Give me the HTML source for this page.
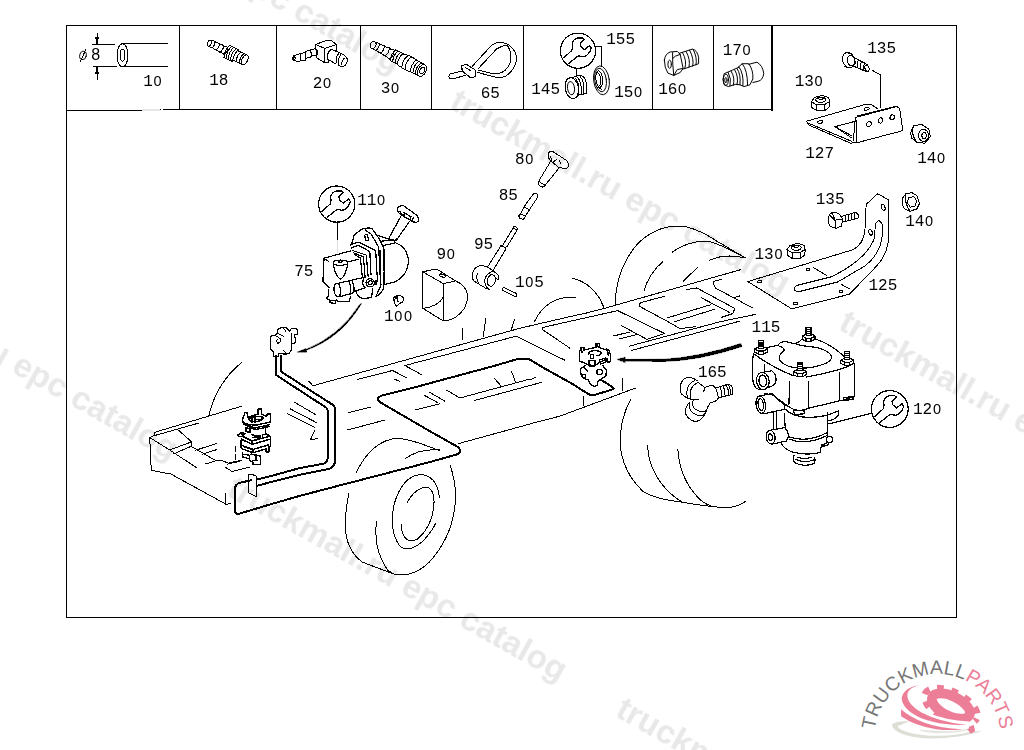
<!DOCTYPE html>
<html><head><meta charset="utf-8">
<style>
html,body{margin:0;padding:0;background:#fff;}
svg{display:block;}
.k{shape-rendering:crispEdges;fill:none;stroke:#000;stroke-width:1;stroke-linecap:round;stroke-linejoin:round;}
.k path,.k line,.k ellipse,.k circle,.k polyline,.k polygon,.k rect{vector-effect:non-scaling-stroke;}
.k .t{stroke-width:2;}
.k .m{stroke-width:1.35;}
.k .w{fill:#fff;}
.k .b{fill:#000;}
.lb{font-family:"Liberation Mono",monospace;font-size:16px;fill:#000;stroke:none;filter:grayscale(1);}
.z{font-family:"Liberation Sans",sans-serif;font-size:14.5px;letter-spacing:.95px;}
.wm{font-family:"Liberation Sans",sans-serif;font-weight:bold;font-size:32px;fill:#e8e8e8;stroke:none;filter:grayscale(1);}
</style></head><body>
<svg width="1024" height="750" viewBox="0 0 1024 750">
<rect width="1024" height="750" fill="#fff"/>
<!-- 10_frame.svg -->
<g class="k" id="frame" style="stroke-width:1;stroke-linecap:square" shape-rendering="crispEdges">
<rect x="66.5" y="25.5" width="890" height="592"/>
<path d="M66.5 110.5H141.5M159.5 109.5H160.5M163  109.5H772M179.5 25.5V109.5M276.5 25.5V109.5M360.5 25.5V109.5M431.5 25.5V109.5M523.5 25.5V109.5M652.5 25.5V109.5M713.5 25.5V109.5"/>
<path d="M772 25.5V110" style="stroke-width:2"/>
<path d="M142.5 110H158.5" style="stroke:#e6e6e6;stroke-width:2"/>
</g>

<!-- 20_defs.svg -->
<defs>
<g id="wr"><circle cx="372" cy="362" r="230" vector-effect="non-scaling-stroke"/><path vector-effect="non-scaling-stroke" d="M185,455 L290,360 L300,320 L295,270 Q310,210 370,195 L430,195 L455,215 L400,270 L410,310 L455,350 L525,295 L545,330 L525,380 L480,430 L440,440 L375,430 L250,530"/></g>
<g id="nut130"><path vector-effect="non-scaling-stroke" fill="#fff" d="M105,395 L125,368 L175,355 L215,368 L222,395 L218,430 L190,453 L140,453 L108,432 Z"/><path vector-effect="non-scaling-stroke" d="M105,395 L138,415 L190,412 L222,395 M138,415 L140,453 M190,412 L190,453 M132,383 Q135,368 165,366 Q195,368 197,382 Q192,398 165,400 Q136,398 132,383 M145,372 Q162,392 186,370"/></g>
</defs>

<!-- 30_chassis_frontleft.svg -->
<g class="k" transform="translate(140,400) scale(0.15625)">
<path d="M90,208 L650,40 M90,208 L92,228 M62,240 L92,228 L375,148 M62,240 L72,450 L198,474 L545,664 M545,598 V672 L577,662"/>
<path d="M62,240 L190,320 L360,432 M245,192 L330,268 V297 M330,268 L190,320 M330,295 L215,345"/>
<path d="M355,322 L490,278 M400,346 L490,318 M330,298 L480,385 L520,385 L560,402 M415,410 L480,392"/>
<path d="M610,300 V385" stroke-dasharray="5 3"/>
<path d="M548,432 L590,458 L700,430 M560,410 L640,392 M575,402 L650,385"/>
</g>
<g class="k" transform="translate(225,400) scale(0.0933)">
<g style="stroke-width:1.45">
<path d="M185,215 L215,135 L240,140 L245,185 L355,150 V95 H390 V150 L445,175 L455,150 L485,150 L490,235 L330,270 L200,255 Z"/>
<path d="M250,200 Q330,160 410,185 Q420,215 330,235 Q260,235 250,200 M290,190 V240 M320,185 V235 M345,210 L400,205 M265,180 L300,170"/>
<path d="M190,240 L320,300 L475,265 M200,260 L320,320 L470,285 M225,295 L225,335 L270,350 M435,280 V355 M225,295 L270,310 M270,310 V350"/>
<path d="M135,375 L175,350 L220,360 M135,375 L160,395 L200,385 M180,365 L205,372"/>
<path d="M175,420 L290,475 L485,420 M200,395 L290,440 L470,390 V380 L440,365 L400,375 L400,405 M290,375 L380,385 V410 L290,440 M485,390 V495 M175,420 L170,475 M290,440 V475 M300,400 L370,395"/>
<path d="M165,480 L300,530 L470,480 M175,520 L300,565 L420,530 M440,520 V555 H470 V500 M165,480 L175,520 M300,530 V565 M215,505 L280,525"/>
<path d="M190,560 V610 L260,630 M190,580 L250,590 M265,600 V650 L300,665 V690 H380 V600 M300,650 H350 M280,580 L380,600 M330,600 V650"/>
</g>
</g>

<!-- 31_pipe_left.svg -->
<g class="k" transform="translate(220,300) scale(0.25)">
<path d="M355,325 L372,343 L1200,112.8 M740,262 L1184,145 M550,318 L690,282 L745,310 M700,318 L720,325 M745,265 L805,298"/>
<path d="M515,450 L605,428 M510,520 L660,480 M780,440 L880,415 M815,380 L870,410 M840,370 L900,405 M905,360 L960,392 L1240,316 M1018,402 L1240,342 M1096,312 L1128,348 M1166,285 L1182,328 M1063,74 L1053,148 M1178,78 L1166,117 M956,574 L1240,496"/>
<path d="M300,410 L385,460 M280,435 L385,490 M270,455 L380,510 M380,520 L362,558 L390,555"/>
<path d="M968,110 V160"/>
</g>

<!-- 32_rail_mid.svg -->
<g class="k" transform="translate(520,270) scale(0.1953125)">
<path d="M0,298 L250,240 Q340,222 420,200 L1129.5,-1.5"/>
<path d="M255,400 L115,305 Q110,294 130,291 L500,208 L740,325 L650,355 L520,285 M478,338 L560,318 M510,352 L600,330"/>
<path d="M-20,339 L230,462"/>
<path d="M740,135 L625,165 Q606,170 612,186 L740,255 L820,300 L900,290 M850,100 L905,92 L1099.8,196.6 L1089.5,223.2 L1029,243.2 M755,245 L975,178 M790,265 L1000,200"/>
<path d="M560,390 L1024,265 L1208,226.8 M570,412 L1024,290 L1124,262"/>
<path d="M1034,48 L1000,55 Q984,60 992,76 L1000,92 L1189.4,193.5 M930,143 L1074.7,218.6 M1089.5,143.4 L1124.4,133.1"/>
<path d="M75,262 Q140,130 285,140 M270,42 Q380,70 430,190 "/>
<path d="M525,555 V615 M325,650 V695 M51,788 L205,748 L590,605 M51,562 L80,550 M51,592 L110,575"/>
</g>

<!-- 33_frontwheel.svg -->
<g class="k" transform="translate(320,410) scale(0.1953125)">
<path d="M185,320 Q270,150 400,145 Q470,150 615,210 M435,250 Q510,195 615,205"/>
</g>
<g class="k" transform="translate(320,480) scale(0.1953125)">
<path d="M148,68 Q120,200 135,290 Q150,370 215,420 L380,482 M668,-73 Q705,50 690,140 Q670,300 560,420 Q480,500 380,482 M290,212 Q270,350 345,460 L375,480"/>
<path d="M612,92 Q598,-28 510,-28 Q420,-15 380,122 Q350,260 410,340 Q460,375 530,310 Q575,260 592,222"/>
<path d="M447,114 Q490,37 550,37 Q592,52 582,142 Q570,242 500,302 Q440,332 420,262 L418,230"/>
</g>

<!-- 34_rearwheel_top.svg -->
<g class="k" transform="translate(600,215) scale(0.1953125)">
<path d="M78,460 Q80,280 190,150 Q300,40 440,60 Q520,80 600,135 L745,220 M370,190 Q450,130 560,135 Q640,160 745,220 M560,232 Q640,195 745,220"/>
<path d="M225,390 Q250,300 320,240 M425,340 L500,268 M0,430 L20,475"/>
</g>

<!-- 35_rearwheel_bottom.svg -->
<g class="k" transform="translate(590,370) scale(0.1953125)">
<path d="M208,150 Q150,260 155,380 Q165,520 270,620 Q330,660 460,675 Q600,700 700,705 Q760,700 798,672 M295,385 Q300,520 400,620 Q440,660 480,680 M450,408 Q460,560 560,660 Q590,690 640,702"/>
</g>

<!-- 36_connector_arrow.svg -->
<g class="k" transform="translate(180,300) scale(0.1953125)">
<path d="M318,318 Q190,420 148,590"/>
<path class="b" style="stroke-width:.6" d="M928,20 Q824,196 640,259 L640,256 Q816,186 920,24 Z M603,266 L645,249 L648,265 Z"/>
</g>
<g class="k" transform="translate(260,320) scale(0.0533)">
<path style="stroke-width:1.2" d="M195,320 L195,540 L250,590 L250,685 L345,685 L350,630 L420,635 L480,640 L545,625 L590,560 L590,450 L660,430 L665,340 L640,290 L640,270 L705,270 L710,200 Q690,160 640,155 L590,160 L555,210 L480,135 L400,135 L330,185 L325,250 L270,290 L195,305 Z"/>
<path d="M590,245 V560 M325,250 L445,310 M290,290 L380,350 L385,410 L335,440 L305,400 L330,360 M440,150 L485,215 M440,570 L490,625"/>
</g>

<!-- 40_longpipe.svg -->
<g class="k"><path class="t" d="M251.5,480.2 L240.5,482.6 Q234.9,484 234.9,489.5 L234.9,510.5 Q235.2,514.8 239.5,513.6 L274,503.3 L300,495.8 L337.5,486 L430,462 L456.4,454.6 Q461.5,452.8 460.3,450 Q459.5,447.8 455.8,445.8 L430,431.3 L380.1,402.2 Q376.6,399.8 378,398 Q379,396.6 381.3,395.7 L414,387.5 L496,365.4 L518.6,358.7 L528.3,358.7 L544,368.1 L574,384.8 L587.5,393.6 Q589.5,395 592,395 L596,394.5 L612,389.6 Q615.2,388.6 612.5,387 L601,379.8"/>
<path class="t" d="M276.1,356 V374 Q276.1,375.2 277.2,375.8 L326.2,407.6 Q327.7,408.6 327.7,410.5 V458.5 Q327.4,462.5 323.2,463.8 L300,468 L274,475.2 L256.8,479.6"/>
<path class="t" d="M280.9,356 V370.6 Q280.9,371.6 282,372.2 L332.5,404.6 Q335,406.3 335,409 V461 Q334.6,466.8 329.6,468.8 L300,474.8 L274,481.3 L257.1,485.7"/>
<path d="M248.3,474 L252,474.3 L256.5,476.3 V496.6 L248.3,492.5 Z"/>
</g>

<!-- 50_valve115.svg -->
<g class="k" style="stroke-width:1.2" transform="translate(735,320) scale(0.15625)">
<!-- top plate -->
<path d="M130,190 L275,162 Q290,135 330,140 L385,152 Q420,135 435,118 M505,118 Q610,150 700,235 M760,278 Q700,320 455,365 M378,358 Q250,310 128,222"/>
<path d="M278,165 Q312,175 315,192 Q268,232 290,262 Q340,320 480,305 Q622,280 618,235 Q600,185 480,170 Q420,165 385,152"/>
<!-- studs -->
<g id="stud"><path class="w" d="M125,185 L150,172 L185,172 L208,185 L206,205 L182,219 L150,219 L125,205 Z"/><path d="M125,185 L150,198 L182,198 L208,185 M150,198 V219 M182,198 V219"/><path class="w" d="M150,130 H182 V180 H150 Z"/><path d="M150,142 H182 M150,154 H182 M150,166 H182"/></g>
<use href="#stud" x="305" y="-82"/>
<use href="#stud" x="552" y="72"/>
<use href="#stud" x="250" y="145"/>
<!-- body -->
<path d="M118,215 Q105,300 116,400 L132,432 M188,285 V345 M765,280 V490 M350,395 L345,540 M470,395 V560 M668,335 V510"/>
<path d="M190,470 L240,480 L330,545 Q400,600 470,565 L700,510 L762,490"/>
<path d="M372,580 L445,582 L445,600 L385,605 Z M695,497 L755,490 L755,508 L700,515 Z"/>
<!-- port 1 -->
<ellipse cx="178" cy="390" rx="40" ry="56" transform="rotate(-8 178 390)"/><ellipse cx="178" cy="390" rx="24" ry="38" transform="rotate(-8 178 390)"/>
<path d="M180,334 L235,325 Q268,350 262,392 Q255,422 212,432 M130,432 Q150,450 185,446"/>
<!-- port 2 -->
<ellipse cx="165" cy="542" rx="30" ry="56" transform="rotate(-8 165 542)"/><ellipse cx="165" cy="542" rx="17" ry="38" transform="rotate(-8 165 542)"/>
<path d="M160,487 L235,470 Q262,500 320,545 L315,572 L185,600"/>
<!-- lower cylinder -->
<path d="M320,570 Q400,650 590,610 L660,582 V612 Q640,640 592,646 M590,592 V735 M245,590 V700 M265,590 V692 M316,600 L322,700"/>
<path d="M598,665 L870,598"/>
</g>
<g class="k" style="stroke-width:1.2" transform="translate(735,390) scale(0.15625)">
<path d="M345,300 Q460,340 585,275 M350,316 Q460,356 592,290"/>
<path d="M298,345 Q320,385 380,400 Q460,420 545,400 L550,366 L600,350 L600,338 M555,352 L590,336 L560,356"/>
<circle cx="605" cy="316" r="20" class="w"/>
<path d="M378,420 Q368,450 385,466 Q440,496 506,470 Q516,450 510,430 M385,442 Q440,472 510,446 M400,430 Q440,446 490,430"/>
<ellipse cx="228" cy="302" rx="28" ry="44" transform="rotate(-8 228 302)"/><ellipse cx="226" cy="302" rx="13" ry="21" transform="rotate(-8 226 302)"/>
<path d="M225,258 L320,240 Q346,270 340,300 L330,326 L240,346"/>
</g>

<!-- 51_wrenches.svg -->
<g class="k" style="stroke-width:1.25">
<g transform="translate(889.8,409) scale(0.08) translate(-372,-362)"><use href="#wr"/></g>
<g transform="translate(336.7,204.1) scale(0.0787) translate(-372,-362)"><use href="#wr"/></g>
<g transform="translate(578,50.7) scale(0.0765) translate(-372,-362)"><use href="#wr"/></g>
</g>
<g class="k">
<path d="M337.2,222 V240"/><path d="M337.2,240 V252.7" style="stroke:#ddd"/>
<path d="M576.1,68.3 V77 M596.25,46.25 H601.25 V66.25"/>
</g>

<!-- 52_bracket125.svg -->
<g class="k" transform="translate(740,180) scale(0.1953125)">
<path d="M40,520 L575,358 Q635,330 640,250 L646,125 L705,70 L758,100 L758,320 Q750,385 700,440 L560,585 L265,660 Z"/>
<path d="M290,540 L470,495 Q660,400 690,290 L692,232 Q700,205 715,210 Q736,225 730,275 Q720,380 640,440 L500,522 L300,572 Q262,566 290,540"/>
<ellipse cx="733" cy="140" rx="9" ry="16" transform="rotate(-20 733 140)"/>
<ellipse cx="668" cy="268" rx="9" ry="15" transform="rotate(-20 668 268)"/>
<path d="M92,516 h18 v9 h-18z M340,455 h18 v8 h-18z M276,628 h18 v9 h-18z M508,567 h18 v8 h-18z M375,448 L445,490 M520,535 L562,558"/>
<!-- bolt 135 -->
<path d="M458,178 Q444,205 460,236 L490,248 L520,236 L526,200 L505,170 L472,165 Z M472,165 L486,206 L490,248 M486,206 L526,200 M458,178 L486,206 M520,186 L590,166 Q612,172 604,196 L525,216 M540,181 V212 M556,176 V208 M572,172 V204 M588,168 V200"/>
<!-- nut 140 -->
<path d="M836,85 Q824,112 840,146 L870,160 L905,148 L919,120 L906,80 L880,65 L850,70 Z M850,70 Q838,110 870,160 M862,92 L890,84 L904,105 L898,132 L872,140 L858,118 Z"/>
<!-- nut 130 -->
<g transform="translate(287,362) scale(0.8) translate(-163,-402)"><use href="#nut130"/></g>
</g>

<!-- 53_bracket127.svg -->
<g class="k" transform="translate(795,40) scale(0.15625)">
<path d="M530,440 L490,415 L450,412 L72,520 L90,545 L355,660 L395,656 M80,530 L362,648"/>
<path d="M390,495 L655,425 L670,440 L690,580 L395,658 Z M400,485 L640,425 L660,430 M386,500 L374,642"/>
<ellipse cx="473" cy="538" rx="14" ry="17" transform="rotate(20 473 538)"/><ellipse cx="548" cy="515" rx="14" ry="17" transform="rotate(20 548 515)"/><ellipse cx="622" cy="495" rx="14" ry="17" transform="rotate(20 622 495)"/>
<ellipse cx="160" cy="525" rx="17" ry="9" transform="rotate(-12 160 525)"/><ellipse cx="458" cy="440" rx="17" ry="9" transform="rotate(-12 458 440)"/>
<path d="M386,520 L255,555 L360,625 M270,562 L366,615"/>
<path d="M495,195 L548,222 V432"/>
<!-- bolt -->
<ellipse cx="343" cy="128" rx="38" ry="50" transform="rotate(-20 343 128)"/><ellipse cx="360" cy="134" rx="24" ry="34" transform="rotate(-20 360 134)"/>
<path d="M330,82 L362,88 M318,170 L352,178 M378,112 L468,160 M362,162 L450,200 M405,128 Q392,150 398,178 M425,138 Q412,160 418,186 M445,148 Q434,168 438,194"/>
<ellipse cx="461" cy="181" rx="13" ry="21" transform="rotate(-20 461 181)"/>
<!-- nut 130 -->
<use href="#nut130"/>
<!-- nut 140 -->
<path d="M740,592 L760,548 L810,540 L856,570 L866,620 L830,660 L780,656 L745,626 Z M760,548 Q738,600 780,656"/>
<ellipse cx="822" cy="610" rx="32" ry="38"/><ellipse cx="826" cy="612" rx="14" ry="20"/>
</g>

<!-- 54_valve75.svg -->
<g class="k" style="stroke-width:1.2" transform="translate(310,200) scale(0.1173)">
<path d="M345,380 L360,360 L375,300 L440,250 Q500,230 530,245 L590,330 L625,400 L635,700 M470,255 L520,290 L585,400 L600,680"/>
<ellipse cx="482" cy="320" rx="13" ry="30" transform="rotate(-10 482 320)"/>
<path d="M345,385 Q400,350 440,370 L560,430 L575,690 M350,410 Q400,380 430,395 L510,440 L520,640 M360,430 L480,470 L495,650 M370,450 L455,485 L470,660 M380,465 L430,495 L445,650"/>
<path d="M330,525 L415,505"/>
<path d="M620,390 L730,365 Q830,400 840,520 Q830,650 720,700 L640,720 M575,300 L680,335 L735,345 M600,352 L700,342"/>
<path d="M675,320 L775,140 M735,345 L850,180 M675,320 L690,345 L725,350 L740,330"/>
<path class="w" d="M745,75 Q760,40 800,50 L910,130 Q935,160 920,185 Q890,200 850,170 L770,120 Q740,100 745,75Z"/>
<path d="M795,105 L862,142 M805,125 L808,150 M850,132 L860,165 M765,95 Q775,120 800,130 M880,150 Q870,175 880,188"/>
</g>
<g class="k" style="stroke-width:1.2" transform="translate(300,250) scale(0.1173)">
<path d="M430,8 L205,70 L195,270 L250,320 M205,70 L240,95"/>
<ellipse cx="345" cy="108" rx="62" ry="22"/>
<path d="M283,112 Q297,220 345,250 Q390,220 408,118 M332,90 h26 v14 h-26z M415,100 L500,78"/>
<path d="M300,290 L560,230 M350,395 L440,370 L470,350 L560,320 M300,290 Q278,330 300,380 L322,400 L350,395 M330,285 Q352,330 340,395 M415,265 Q440,310 430,375 M440,258 Q466,300 460,352"/>
<circle cx="598" cy="280" r="35" class="w"/><circle cx="598" cy="280" r="18"/>
<path d="M545,245 Q525,280 545,310"/>
<path class="b" d="M638,265 h16 v30 h-16z"/>
<path d="M480,345 Q480,400 540,415 L610,405 L620,330"/>
<path d="M720,0 L715,320 Q700,370 640,400 M682,0 L690,300 L650,390"/>
<path d="M245,335 L240,395 L225,410 L255,430 L255,450 L300,455 L310,420 L320,440 L420,440 L430,400 M255,430 L300,428"/>
<path d="M800,405 Q810,390 850,388 Q885,395 882,430 Q875,450 850,455 L825,480 Q800,460 800,405 M830,400 L835,440 M815,410 L830,408"/>
</g>

<!-- 55_small_parts.svg -->
<g class="k" transform="translate(470,145) scale(0.1173)">
<path class="w" d="M668,80 Q675,48 705,55 L820,130 Q852,165 835,190 Q810,210 780,195 L755,190 L690,135 Q662,110 668,80Z"/>
<path d="M690,95 Q688,130 700,150 M715,140 L740,125 M765,135 L770,160 M690,135 L585,310 M760,195 L635,350 M585,310 Q575,330 590,345 L615,360 L635,350 M590,312 L640,345"/>
<path d="M545,410 L575,420 Q582,435 570,455 L495,570 L470,610 L455,635 L425,625 L415,605 L430,590 L465,520 Z M460,530 L500,548 M436,588 L470,605"/>
</g>
<g class="k" transform="translate(420,215) scale(0.1173)">
<path d="M520,430 Q450,440 445,520 Q445,555 470,570 L570,630 M520,430 L570,440 L625,475 M625,480 Q682,510 668,545 M655,545 L670,548 M590,635 Q548,610 552,550 Q565,495 625,480 M490,495 Q475,540 500,580"/>
<ellipse cx="608" cy="558" rx="34" ry="50" transform="rotate(12 608 558)"/>
<path d="M575,445 L690,262 M625,470 L730,295 M690,262 L730,280 L730,295 M705,260 L800,100 M740,272 L830,125"/>
<ellipse cx="815" cy="112" rx="16" ry="10" transform="rotate(25 815 112)"/>
<path d="M712,618 L820,668 Q832,685 815,698 L708,645 Q696,630 712,618 Z"/>
</g>
<g class="k" transform="translate(415,250) scale(0.10667)">
<path d="M72,205 L175,182 Q200,180 225,192 L380,290 L265,315 Z M72,205 L70,545 L265,665 M265,315 V665 M380,290 Q480,330 495,430 Q490,560 380,630 Q320,665 265,665 M72,548 Q220,530 265,440"/>
<ellipse cx="258" cy="240" rx="32" ry="13" transform="rotate(15 258 240)"/>
<path class="m" d="M228,232 Q255,218 292,240"/>
</g>

<!-- 56_header_parts.svg -->
<!-- tube 10 -->
<g class="k" transform="translate(60,20) scale(0.25)">
<ellipse cx="250" cy="141" rx="22" ry="46" class="w"/><ellipse cx="250" cy="141" rx="10" ry="24"/>
<path d="M252,95 H432 M252,187 H432 M130,97 H220 M135,187 H228 M148,50 V97 M148,187 V240"/>
<path class="m" d="M265,95 H380 M140,187 H190"/>
<path class="b" d="M148,97 L143,70 H153Z M148,187 L143,214 H153Z"/>
<ellipse cx="92" cy="142" rx="13" ry="17" transform="rotate(15 92 142)"/><path d="M103,118 L82,166"/>
</g>
<!-- fitting 18 -->
<g class="k" transform="translate(190,30) scale(0.078125)"><g transform="translate(225,150) rotate(25.4)">
<ellipse cx="28" cy="6" rx="24" ry="42"/>
<path d="M28,-36 L85,-46 L88,-38 L145,-46 L148,-38 L205,-46 L208,-38 L265,-46 M28,48 L85,50 L88,44 L145,52 L148,46 L205,54 L208,48 L262,56"/>
<path d="M85,-46 Q108,0 85,50 M145,-46 Q168,0 145,52 M205,-46 Q228,0 205,54 M265,-46 Q288,0 262,56"/>
<path d="M275,-80 L400,-78 M275,92 L395,92 M275,-80 Q240,0 275,92 M305,-80 Q270,0 305,92 M335,-80 Q300,0 335,92 M368,-79 Q333,0 368,92 M400,-78 Q372,0 395,92"/>
<path d="M400,-62 L530,-62 M395,72 L530,72 M440,-62 Q410,5 440,72 M485,-62 Q455,5 485,72"/>
<ellipse cx="530" cy="5" rx="36" ry="67"/>
</g></g>
<!-- elbow 20 -->
<g class="k" transform="translate(285,30) scale(0.078125)">
<path d="M390,185 L540,130 L600,140 L660,185 L510,235 Z M390,185 L395,240 L410,360 L510,420 L510,235 M660,185 V262 M510,420 L560,410"/>
<path d="M385,240 L330,250 L325,265 L265,270 L255,290 L195,300 L110,330 Q95,360 110,395 L190,400 L215,385 L260,385 L275,360 L330,350 L345,330 L410,320"/>
<path d="M195,300 Q215,345 190,400 M255,290 Q280,335 260,385 M325,265 Q350,305 330,350 M385,240 Q440,270 410,320"/>
<ellipse cx="115" cy="362" rx="14" ry="33"/>
<path d="M590,245 L720,300 M545,370 L640,430 M590,245 Q530,300 545,370 L560,410 M690,300 Q640,350 660,420 M720,305 Q670,365 690,445"/>
<path d="M720,300 Q800,330 800,400 Q780,470 720,470 Q680,450 690,445 M762,360 Q715,400 730,455"/>
</g>
<!-- fitting 30 -->
<g class="k" transform="translate(362,30) scale(0.078125)"><g transform="translate(110,170) rotate(27.7)">
<ellipse cx="38" cy="4" rx="36" ry="46"/>
<path d="M45,-42 L100,-52 L104,-42 L170,-56 L174,-46 L240,-60 L244,-50 L310,-64 M45,50 L100,52 L104,46 L170,56 L174,50 L240,60 L244,54 L310,66"/>
<path d="M100,-52 Q128,0 100,52 M170,-56 Q198,0 170,56 M240,-60 Q268,0 240,60 M310,-64 Q340,0 310,66"/>
<path d="M325,-76 L430,-76 M325,78 L430,80 M325,-76 Q290,0 325,78 M360,-76 Q325,0 360,78 M395,-76 Q360,0 395,79 M430,-76 Q398,0 430,80"/>
<path d="M440,-70 L500,-90 L620,-88 M440,84 L500,92 L620,92 M500,-90 Q455,0 500,92 M545,-90 Q500,0 545,92 M620,-88 Q580,0 620,92"/>
<path d="M620,-80 L745,-80 M620,84 L745,84 M655,-80 Q615,0 655,84 M690,-80 Q650,0 690,84"/>
<ellipse cx="745" cy="2" rx="50" ry="82"/><ellipse cx="748" cy="2" rx="28" ry="46"/>
</g></g>
<!-- cable tie 65 -->
<g class="k" transform="translate(435,35) scale(0.08789)">
<path d="M425,355 L650,110 Q720,70 800,95 Q900,130 930,250 Q920,400 800,470 Q750,490 690,480 L480,425"/>
<path d="M490,385 L700,160 Q760,120 820,115 Q880,200 860,300 Q820,420 720,440 Q680,445 640,435 L490,400"/>
<path class="w" d="M300,350 L360,335 L460,400 L465,470 L410,490 L320,420 Z"/><path d="M300,350 L305,395 L320,420 M345,370 L410,410"/>
<path d="M300,410 L170,445 Q148,470 165,490 L240,490 L355,455"/>
</g>
<!-- rings 145/150 -->
<g class="k" transform="translate(555,60) scale(0.078125)">
<path d="M215,225 L320,195 Q370,200 392,262 Q422,360 400,430 L310,442 L270,482 M260,232 Q320,300 300,440 M290,222 Q350,290 335,445 M320,207 Q385,280 365,440"/>
<ellipse cx="215" cy="360" rx="84" ry="135" transform="rotate(-10 215 360)" class="w"/><ellipse cx="205" cy="360" rx="45" ry="85" transform="rotate(-8 205 360)"/>
<ellipse cx="595" cy="260" rx="100" ry="186" transform="rotate(-8 595 260)"/><ellipse cx="583" cy="256" rx="74" ry="152" transform="rotate(-8 583 256)"/><ellipse cx="566" cy="245" rx="42" ry="105" transform="rotate(-6 566 245)"/>
<path d="M545,160 Q582,180 580,250 Q590,320 560,340 M545,348 L600,380"/>
</g>
<!-- plug 160, fitting 170 -->
<g class="k" transform="translate(655,35) scale(0.11719)">
<path d="M80,215 Q85,160 130,145 L190,140 L215,165 L240,285 L215,320 L160,345 L110,325 Q80,280 80,215 Z M150,150 Q148,250 160,345 M215,165 Q165,178 150,200 M240,285 L190,295 L160,345"/>
<ellipse cx="125" cy="250" rx="15" ry="35"/>
<path d="M210,155 L320,120 Q360,130 372,190 L372,245 L245,290 M235,150 Q275,220 255,285 M265,140 Q305,210 290,275 M295,130 Q335,200 322,265 M325,122 Q362,190 350,255"/>
<path d="M800,250 L870,232 Q920,260 928,330 Q920,385 880,395 L835,405"/>
<path d="M715,270 L745,245 L800,245 Q840,300 835,375 L810,425 L760,440 L725,425 M745,245 Q790,300 790,430 M715,270 Q760,330 750,432"/>
<path d="M715,275 L660,300 L590,330 Q570,380 590,425 L625,440 L690,420 L725,425 M625,320 Q655,375 640,435 M650,310 Q685,365 668,430 M680,298 Q715,355 700,425 M700,285 Q735,340 725,420"/>
<ellipse cx="605" cy="382" rx="22" ry="48"/><ellipse cx="605" cy="385" rx="10" ry="22"/>
</g>

<!-- 57_elbow_valve2.svg -->
<g class="k" transform="translate(670,360) scale(0.09333)">
<path d="M290,220 Q230,170 160,195 Q100,240 110,340 Q130,390 220,420 M270,215 Q180,260 180,350 L185,400 M300,240 Q220,280 215,360 L225,420"/>
<path d="M300,240 L340,270 L375,295 Q420,275 455,270 L490,300 M360,340 L375,295 M225,420 L305,425 M225,420 L250,430"/>
<path d="M490,300 L620,260 Q665,265 672,310 L665,370 L520,405 M490,300 Q510,350 520,405 M535,290 Q560,340 555,395 M570,280 Q595,330 590,385 M605,268 Q632,320 625,378 M620,260 Q650,300 648,372"/>
<path d="M520,405 L500,435 L430,460 L400,510 L385,560"/>
<path d="M250,430 Q230,480 260,520 Q320,570 385,545 M210,470 Q200,530 250,570 Q310,610 360,590 L385,560 M215,450 Q160,500 165,570 Q190,640 270,660 Q330,650 355,610 L385,560"/>
</g>
<g class="k" transform="translate(575,330) scale(0.09333)">
<g class="m">
<path d="M45,240 L65,190 L95,185 L95,215 L225,185 L225,145 L260,145 L265,190 L335,215 L340,205 L360,210 L380,265 L380,340 L345,345 L345,305 M45,240 L45,335 L85,345 L145,375 L215,380 L260,350 L345,305 M70,190 L75,240 M240,150 L250,190 M350,210 L355,270"/>
<path d="M145,260 Q150,225 210,220 Q280,225 285,250 Q270,275 230,275 M165,265 h30 v40 h-30z M150,330 h65 v55 h-65 z M260,320 L330,300 L335,340 L275,365 Z"/>
<path d="M60,410 Q50,450 75,500 L100,520 L140,535 L165,580 Q200,620 240,590 L245,550 L290,520 L330,490 L340,430 L300,385 M60,410 L95,395 L110,380 M95,400 L135,440"/>
<circle cx="95" cy="495" r="20"/><circle cx="265" cy="450" r="30"/>
</g>
</g>
<g class="k"><path class="b" style="stroke-width:.4" d="M617.3,359.3 L625.3,357.2 L625.3,359.4 L664,359.2 Q700,357 741,343.4 L741.9,346.6 Q700,360.6 664,361.6 L625.3,361.3 L625.3,362.6 Z"/></g>

<!-- 90_labels.svg -->
<g class="lb" id="labels" transform="translate(-0.8,-0.4)">
<text x="144" y="86">1<tspan class="z" dx=".7">0</tspan></text>
<text x="210" y="85.5">18</text>
<text x="313.5" y="88.5">2<tspan class="z" dx=".7">0</tspan></text>
<text x="381.5" y="93">3<tspan class="z" dx=".7">0</tspan></text>
<text x="481.5" y="98">65</text>
<text x="607" y="44.5">155</text>
<text x="532" y="94.5">145</text>
<text x="615" y="97">15<tspan class="z" dx=".7">0</tspan></text>
<text x="659" y="94.5">16<tspan class="z" dx=".7">0</tspan></text>
<text x="723.5" y="55">17<tspan class="z" dx=".7">0</tspan></text>
<text x="868" y="53">135</text>
<text x="795.5" y="86">13<tspan class="z" dx=".7">0</tspan></text>
<text x="806" y="158">127</text>
<text x="918" y="163.5">14<tspan class="z" dx=".7">0</tspan></text>
<text x="816.5" y="204">135</text>
<text x="906" y="226">14<tspan class="z" dx=".7">0</tspan></text>
<text x="92" y="60.5" style="font-family:'Liberation Sans'">8</text>
<text x="913.8" y="414.6">12<tspan class="z" dx=".7">0</tspan></text>
<text x="752.4" y="332.4">115</text>
<text x="755.3" y="259.5">13<tspan class="z" dx=".7">0</tspan></text>
<text x="869.3" y="290.2">125</text>
<text x="698.7" y="377">165</text>
<text x="515.7" y="287">1<tspan class="z" dx=".7">0</tspan>5</text>
<text x="474.7" y="249.1">95</text>
<text x="437.2" y="259.3">9<tspan class="z" dx=".7">0</tspan></text>
<text x="499.5" y="200">85</text>
<text x="515.75" y="164.5">8<tspan class="z" dx=".7">0</tspan></text>
<text x="295" y="276">75</text>
<text x="384.7" y="321.6">1<tspan class="z" dx=".7">0</tspan><tspan class="z" dx=".7">0</tspan></text>
<text x="358" y="205.8">11<tspan class="z" dx=".7">0</tspan></text>
</g>

<!-- 95_logo.svg -->
<g id="logo">
<defs><path id="larc" d="M874.71,729.95 A63.20,63.20 0 0 1 1000.46,742.61"/></defs>
<g transform="translate(880,670) scale(0.11719)">
<path d="M100,470 Q120,430 260,438 Q200,455 150,480 Q180,540 420,560 Q620,570 760,530 Q820,520 870,520 Q700,580 420,585 Q130,570 100,470Z" fill="#dddfd7"/>
<path d="M260,470 Q400,440 640,455 Q760,470 800,500 Q700,540 480,540 Q350,530 330,510 Q500,525 680,500 Q560,470 260,470Z" fill="#dddfd7" opacity=".8"/>
<g transform="rotate(26 605 308)">
<ellipse cx="605" cy="308" rx="246" ry="124" fill="none" stroke="#ec7f97" stroke-width="54" stroke-dasharray="58 66" stroke-dashoffset="30"/>
<ellipse cx="605" cy="308" rx="176" ry="84" fill="none" stroke="#ec7f97" stroke-width="84"/>
</g>
<path d="M735,492 L800,470 L812,520 L775,545 Z" fill="#ec7f97"/>
<path d="M300,130 Q190,160 185,250 L185,400 Q300,500 520,520 Q640,530 760,500 L760,440 Q560,430 420,370 Q300,300 330,130Z" fill="#fff"/>
<path d="M330,130 Q200,150 185,240 Q190,330 330,400 Q480,470 740,470 Q500,440 350,360 Q220,280 235,200 Q250,150 330,130 Z" fill="#ec7f97"/>
<path d="M180,335 L180,395 Q300,480 480,505 Q600,520 700,505 Q520,500 380,450 Q250,400 180,335 Z" fill="#ec7f97"/>
</g>
<text style="font-family:'Liberation Sans',sans-serif;font-size:19.5px;letter-spacing:.15px;filter:none" fill="#777"><textPath href="#larc">TRUCKMALL<tspan fill="#ec7f97">PARTS</tspan></textPath></text>
</g>

<!-- 96_watermark.svg -->
<g class="wm" id="wm" style="font-size:33.3px;mix-blend-mode:multiply">
<text transform="translate(448.0,107.7) rotate(29.30)">truckmall.ru epc catalog</text>
<text transform="translate(225.0,494.7) rotate(29.30)">truckmall.ru epc catalog</text>
<text transform="translate(837.0,328.7) rotate(29.30)">truckmall.ru epc catalog</text>
<text transform="translate(59.0,-113.3) rotate(29.30)">truckmall.ru epc catalog</text>
<text transform="translate(-164.0,273.7) rotate(29.30)">truckmall.ru epc catalog</text>
<text transform="translate(614.0,715.7) rotate(29.30)">truckmall.ru epc catalog</text>
</g>

</svg>
</body></html>
